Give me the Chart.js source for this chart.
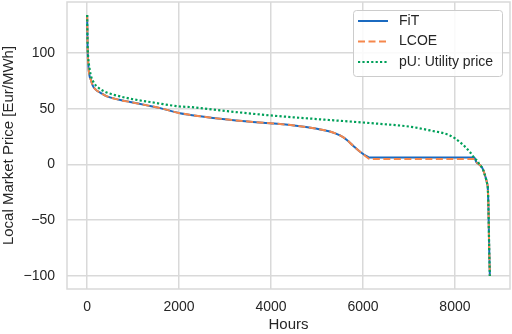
<!DOCTYPE html>
<html lang="en">
<head>
    <meta charset="UTF-8">
    <title>Local Market Price</title>
    <script src="https://cdn.jsdelivr.net/npm/chart.js"></script>
    <style>
        html, body { margin: 0; padding: 0; background: #ffffff; }
        #wrap { width: 512px; height: 334px; }
    </style>
</head>
<body>
<div id="wrap"><canvas id="priceChart" width="512" height="334"></canvas></div>
<script>
// duration curve, hours sorted by price
const hours = [0, 10, 28, 50, 80, 120, 175, 300, 430, 700, 935, 1300, 1590, 2020, 2500, 3000, 3500, 3980, 4500, 5000, 5280, 5500, 5650, 5780, 5950, 6100, 6150, 7000, 8000, 8420, 8470, 8530, 8600, 8670, 8700, 8715, 8730, 8745, 8760];
const fit  = [134, 105, 88, 80, 76, 71, 67.5, 64, 61, 58, 56, 53, 50.5, 46, 43, 40.5, 38.5, 37, 35, 32, 29.6, 26, 22, 17, 11, 7, 6.2, 6.2, 6.2, 6.2, 1.8, 0, -3.5, -12, -17, -21, -40, -75, -100];
const lcoe = [134, 105, 88, 80, 76, 71, 67.5, 64, 61, 58, 56, 53, 50.5, 46, 43, 40.5, 38.5, 37, 35, 32, 29.6, 26, 22, 17, 11, 6, 4.8, 4.8, 4.8, 4.8, 1.8, 0, -3.5, -12, -17, -21, -40, -75, -100];

const hoursU   = [0, 10, 25, 45, 80, 150, 240, 400, 720, 1000, 1370, 2020, 2240, 3000, 3980, 5000, 6370, 7000, 7460, 7890, 8110, 8330, 8430, 8500, 8530, 8600, 8670, 8700, 8715, 8730, 8745, 8760];
const utility  = [134, 108, 95, 88, 80, 73, 69, 65, 61, 58.5, 56, 52, 51.5, 48, 44, 40.7, 36.4, 34, 30.5, 26, 20, 11, 5.3, 2.6, 0, -3.5, -12, -17, -21, -40, -75, -100];

const xTicks = [0, 2000, 4000, 6000, 8000];
const yTicks = [-100, -50, 0, 50, 100];

const textColor = '#262626';
const gridColor = '#d9d9d9';

function toPoints(xs, ys) {
    return xs.map((x, i) => ({ x: x, y: ys[i] }));
}

// frame around plot area (all four spines)
const framePlugin = {
    id: 'frame',
    beforeDatasetsDraw(chart) {
        const a = chart.chartArea;
        const ctx = chart.ctx;
        ctx.save();
        ctx.strokeStyle = gridColor;
        ctx.lineWidth = 1.5;
        ctx.strokeRect(a.left, a.top, a.right - a.left, a.bottom - a.top);
        ctx.restore();
    }
};

// legend drawn inside the plot, upper right
const innerLegend = {
    id: 'innerLegend',
    afterDraw(chart) {
        const ctx = chart.ctx;
        const a = chart.chartArea;
        const w = 149, h = 66;
        const x0 = a.right - 8 - w, y0 = a.top + 8;
        ctx.save();
        ctx.fillStyle = 'rgba(255,255,255,0.85)';
        ctx.strokeStyle = '#cccccc';
        ctx.lineWidth = 1;
        ctx.beginPath();
        ctx.roundRect(x0 + 0.5, y0 + 0.5, w, h, 3);
        ctx.fill();
        ctx.stroke();
        ctx.font = '14px "Liberation Sans", Arial, sans-serif';
        ctx.textBaseline = 'middle';
        chart.data.datasets.forEach((ds, i) => {
            const yy = y0 + 11 + i * 20.5;
            ctx.strokeStyle = ds.borderColor;
            ctx.lineWidth = ds.borderWidth;
            ctx.setLineDash(ds.borderDash || []);
            ctx.beginPath();
            ctx.moveTo(x0 + 5, yy);
            ctx.lineTo(x0 + 35, yy);
            ctx.stroke();
            ctx.setLineDash([]);
            ctx.fillStyle = textColor;
            ctx.fillText(ds.label, x0 + 46, yy);
        });
        ctx.restore();
    }
};

const ctx = document.getElementById('priceChart').getContext('2d');
new Chart(ctx, {
    type: 'line',
    data: {
        datasets: [{
            label: 'FiT',
            data: toPoints(hours, fit),
            borderColor: '#1b6ac0',
            borderWidth: 2,
            order: 3
        }, {
            label: 'LCOE',
            data: toPoints(hours, lcoe),
            borderColor: '#f5874c',
            borderWidth: 2,
            borderDash: [7, 3.5],
            order: 2
        }, {
            label: 'pU: Utility price',
            data: toPoints(hoursU, utility),
            borderColor: '#00a05a',
            borderWidth: 2.2,
            borderDash: [2.2, 2.2],
            order: 1
        }]
    },
    options: {
        responsive: false,
        animation: false,
        devicePixelRatio: 1,
        layout: { padding: { top: 2, right: 2, left: 0, bottom: 0 } },
        elements: {
            point: { radius: 0 },
            line: { tension: 0.4, cubicInterpolationMode: 'monotone', fill: false }
        },
        scales: {
            x: {
                type: 'linear',
                min: -438,
                max: 9198,
                afterBuildTicks(scale) { scale.ticks = xTicks.map(v => ({ value: v })); },
                afterFit(scale) {
                    scale.height = 45;
                    scale.paddingLeft = 0;
                    scale.paddingRight = 0;
                },
                grid: { color: gridColor, lineWidth: 1.5, drawTicks: false },
                border: { display: false },
                ticks: {
                    padding: 10,
                    color: textColor,
                    font: { family: '"Liberation Sans", Arial, sans-serif', size: 14 },
                    maxRotation: 0,
                    callback: v => String(v)
                },
                title: {
                    display: true,
                    text: 'Hours',
                    color: textColor,
                    padding: 0,
                    font: { family: '"Liberation Sans", Arial, sans-serif', size: 15 }
                }
            },
            y: {
                min: -111.7,
                max: 145.7,
                afterBuildTicks(scale) { scale.ticks = yTicks.map(v => ({ value: v })); },
                afterFit(scale) {
                    scale.width = 67;
                    scale.paddingTop = 0;
                    scale.paddingBottom = 0;
                },
                grid: { color: gridColor, lineWidth: 1.5, drawTicks: false },
                border: { display: false },
                ticks: {
                    padding: 12,
                    color: textColor,
                    font: { family: '"Liberation Sans", Arial, sans-serif', size: 14 },
                    callback: v => (v < 0 ? '\u2212' + Math.abs(v) : String(v))
                },
                title: {
                    display: true,
                    text: 'Local Market Price [Eur/MWh]',
                    color: textColor,
                    padding: { top: 0, bottom: 0 },
                    font: { family: '"Liberation Sans", Arial, sans-serif', size: 15 }
                }
            }
        },
        plugins: {
            legend: { display: false },
            tooltip: { enabled: false }
        }
    },
    plugins: [framePlugin, innerLegend]
});
</script>
</body>
</html>
